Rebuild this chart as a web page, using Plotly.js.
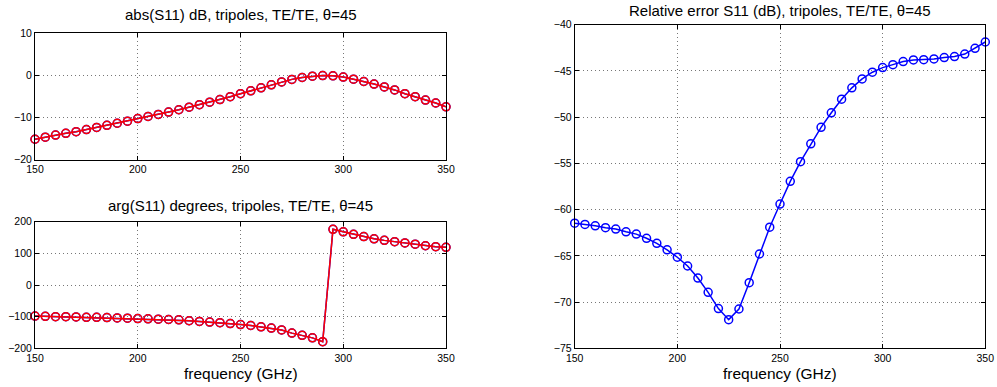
<!DOCTYPE html>
<html>
<head>
<meta charset="utf-8">
<script src="https://cdn.plot.ly/plotly-3.0.1.min.js"></script>
<style>html,body{margin:0;padding:0;background:#fff;}#chart{width:997px;height:387px;}</style>
</head>
<body>
<div id="chart"></div>
<script>
const freq = [150,155,160,165,170,175,180,185,190,195,200,205,210,215,220,225,230,235,240,245,250,255,260,265,270,275,280,285,290,295,300,305,310,315,320,325,330,335,340,345,350];
const absS11dB = [-15.2,-14.7,-14.2,-13.8,-13.4,-12.9,-12.4,-11.9,-11.4,-10.9,-10.3,-9.8,-9.3,-8.75,-8.2,-7.6,-7.0,-6.4,-5.8,-5.1,-4.4,-3.7,-3.0,-2.3,-1.6,-1.0,-0.55,-0.25,-0.1,-0.15,-0.45,-0.95,-1.5,-2.1,-2.8,-3.5,-4.4,-5.1,-5.9,-6.6,-7.5];
const argS11deg = [-98,-99,-100,-100,-101,-102,-102,-103,-104,-105,-106,-107,-108,-109,-110,-113,-115,-117,-119,-122,-125,-128,-132,-136,-142,-152,-159,-167,-179,176,168,160,153,146,141,137,133,129,124,121,119];
const relErrDB = [-61.47,-61.6,-61.75,-61.95,-62.1,-62.4,-62.65,-63.1,-63.65,-64.35,-65.15,-66.1,-67.4,-68.95,-70.7,-71.9,-70.75,-67.9,-64.8,-61.9,-59.4,-56.94,-54.82,-52.88,-51.1,-49.53,-48.06,-46.83,-45.86,-45.14,-44.64,-44.32,-43.99,-43.81,-43.78,-43.7,-43.56,-43.45,-43.18,-42.55,-41.87];

const titles = ['abs(S11) dB, tripoles, TE/TE, \u03b8=45', 'arg(S11) degrees, tripoles, TE/TE, \u03b8=45', 'Relative error S11 (dB), tripoles, TE/TE, \u03b8=45'];
const xLabel = 'frequency (GHz)';

const W = 997, H = 387;
const FONT = 'Liberation Sans, Arial, Helvetica, sans-serif';

function mk(x, y, xa, ya, color) {
  return {x: x, y: y, xaxis: xa, yaxis: ya, type: 'scatter', mode: 'lines+markers',
    line: {color: color, width: 1.5},
    marker: {symbol: 'circle-open', size: 8, color: color, line: {width: 1.5, color: color}},
    showlegend: false, cliponaxis: false};
}

const traces = [
  mk(freq, absS11dB, 'x', 'y', '#0000ff'),
  mk(freq, absS11dB, 'x', 'y', '#ff0000'),
  mk(freq, argS11deg, 'x2', 'y2', '#0000ff'),
  mk(freq, argS11deg, 'x2', 'y2', '#ff0000'),
  mk(freq, relErrDB, 'x3', 'y3', '#0000ff')
];

function ax(domain, anchor, range, dtick) {
  return {domain: domain, anchor: anchor, range: range, dtick: dtick, tick0: 0,
    showline: true, linecolor: '#000', linewidth: 1, mirror: 'allticks',
    ticks: 'inside', ticklen: 4, tickcolor: '#000', tickwidth: 1,
    showgrid: true, gridcolor: '#777', griddash: '1px,3px', gridwidth: 1,
    zeroline: false, fixedrange: true,
    tickfont: {family: FONT, size: 10.5, color: '#000'}};
}

const xl = [35/W, 446/W], xr = [574.7/W, 985.3/W];
const yTop = [1-159.5/H, 1-33/H], yBot = [1-348.3/H, 1-221.7/H], yRight = [1-348.3/H, 1-24.7/H];

function note(text, x, ypx, size) {
  return {text: text, xref: 'paper', yref: 'paper', x: x, y: 1-ypx/H, xanchor: 'center', yanchor: 'middle', showarrow: false, font: {size: size, family: FONT, color: '#000'}};
}

const layout = {
  width: W, height: H,
  margin: {l: 0, r: 0, t: 0, b: 0},
  paper_bgcolor: '#fff', plot_bgcolor: '#fff',
  font: {family: FONT, color: '#000'},
  xaxis: ax(xl, 'y', [150, 350], 50),
  yaxis: ax(yTop, 'x', [-20, 10], 10),
  xaxis2: ax(xl, 'y2', [150, 350], 50),
  yaxis2: ax(yBot, 'x2', [-200, 200], 100),
  xaxis3: ax(xr, 'y3', [150, 350], 50),
  yaxis3: ax(yRight, 'x3', [-75, -40], 5),
  annotations: [
    note(titles[0], (xl[0]+xl[1])/2, 15, 15),
    note(titles[1], (xl[0]+xl[1])/2, 205, 15),
    note(titles[2], (xr[0]+xr[1])/2, 10, 15),
    note(xLabel, (xl[0]+xl[1])/2, 373, 15.5),
    note(xLabel, (xr[0]+xr[1])/2, 373, 15.5)
  ]
};

Plotly.newPlot('chart', traces, layout, {staticPlot: true, displayModeBar: false});
</script>
</body>
</html>
